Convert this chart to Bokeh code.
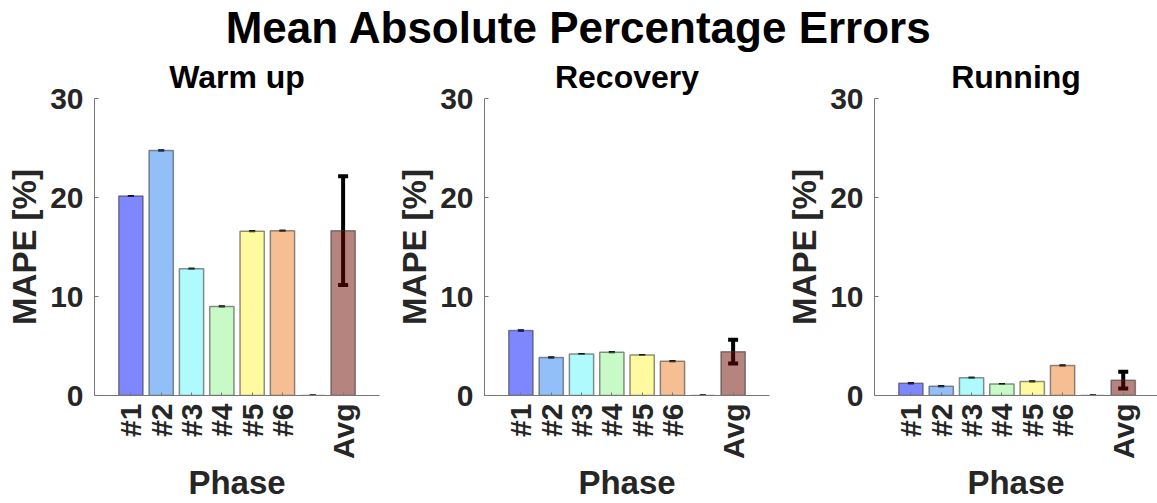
import math
from bokeh.plotting import figure
from bokeh.layouts import column, row
from bokeh.models import Range1d, FixedTicker, Label, ColumnDataSource
from bokeh.embed import file_html
from bokeh.resources import INLINE

# ---- data ----
main_title = "Mean Absolute Percentage Errors"
panel_titles = ["Warm up", "Recovery", "Running"]
positions = [1, 2, 3, 4, 5, 6, 7, 8]
tick_positions = [1, 2, 3, 4, 5, 6, 8]
tick_labels = ["#1", "#2", "#3", "#4", "#5", "#6", "Avg"]
warm_up = [20.15, 24.75, 12.8, 9.0, 16.6, 16.65, 0.0, 16.65]
warm_up_err = [0, 0, 0, 0, 0, 0, 0, 5.5]
recovery = [6.57, 3.84, 4.18, 4.38, 4.08, 3.47, 0.0, 4.42]
recovery_err = [0, 0, 0, 0, 0, 0, 0, 1.2]
running = [1.25, 0.94, 1.79, 1.15, 1.42, 3.03, 0.0, 1.55]
running_err = [0, 0, 0, 0, 0, 0, 0, 0.85]
base_colors = ["#0010ff", "#2580f0", "#60f5fa", "#90f590", "#fff540", "#ee8028", "#ffffff", "#6e0a00"]

FONT = "Liberation Sans"
TXT = "#262626"
TOP_H = 52

def panel(title, vals, errs, left_border, right_border, frame_w, x_end):
    p = figure(frame_width=frame_w, frame_height=297,
               min_border_left=left_border, min_border_right=right_border,
               min_border_top=98 - TOP_H, min_border_bottom=108,
               x_range=Range1d(-0.2, x_end), y_range=Range1d(0, 30),
               output_backend="svg", toolbar_location=None, title=title)
    p.title.align = "center"
    p.title.text_font = FONT
    p.title.text_font_size = "32px"
    p.title.text_font_style = "bold"
    p.title.text_color = "#000000"
    p.title.standoff = 8
    p.outline_line_color = None
    p.grid.visible = False
    p.background_fill_color = None
    p.border_fill_color = None

    lows = [v - e for v, e in zip(vals, errs)]
    highs = [v + e for v, e in zip(vals, errs)]
    src = ColumnDataSource(dict(x=positions, top=vals, lo=lows, hi=highs,
                                color=base_colors, err=errs))
    # error bars (drawn beneath semi-transparent bars)
    p.segment(x0="x", y0="lo", x1="x", y1="hi", source=src, line_color="black", line_width=4)
    big = [e > 0 for e in errs]
    src.data["capw"] = [10 if b else 6 for b in big]
    src.data["caph"] = [4 if b else 2 for b in big]
    p.rect(x="x", y="hi", width="capw", height="caph", width_units="screen",
           height_units="screen", source=src, fill_color="black", line_color=None)
    p.rect(x="x", y="lo", width="capw", height="caph", width_units="screen",
           height_units="screen", source=src, fill_color="black", line_color=None)
    p.vbar(x="x", top="top", width=0.8, bottom=0, source=src,
           fill_color="color", fill_alpha=0.5, line_color="#333333", line_alpha=0.55,
           line_width=1.5)

    # y axis
    ya = p.yaxis[0]
    ya.ticker = FixedTicker(ticks=[0, 10, 20, 30])
    ya.axis_label = "MAPE [%]"
    ya.axis_label_text_font = FONT
    ya.axis_label_text_font_size = "33px"
    ya.axis_label_text_font_style = "bold"
    ya.axis_label_text_color = TXT
    ya.axis_label_standoff = 4
    ya.major_label_text_font = FONT
    ya.major_label_text_font_size = "30px"
    ya.major_label_text_font_style = "bold"
    ya.major_label_text_color = TXT
    ya.major_label_standoff = 11
    ya.major_tick_in = 4
    ya.major_tick_out = 0
    ya.minor_tick_line_color = None
    ya.axis_line_color = "#777777"
    ya.major_tick_line_color = "#777777"

    # x axis
    xa = p.xaxis[0]
    xa.ticker = FixedTicker(ticks=tick_positions)
    xa.major_label_overrides = {t: l for t, l in zip(tick_positions, tick_labels)}
    xa.major_label_orientation = math.pi / 2
    xa.axis_label = "Phase"
    xa.axis_label_text_font = FONT
    xa.axis_label_text_font_size = "33px"
    xa.axis_label_text_font_style = "bold"
    xa.axis_label_text_color = TXT
    xa.axis_label_standoff = 2
    xa.major_label_text_font = FONT
    xa.major_label_text_font_size = "30px"
    xa.major_label_text_font_style = "bold"
    xa.major_label_text_color = TXT
    xa.major_label_standoff = 8
    xa.major_tick_in = 3
    xa.major_tick_out = 0
    xa.minor_tick_line_color = None
    xa.axis_line_color = "#777777"
    xa.major_tick_line_color = "#777777"
    return p

p1 = panel(panel_titles[0], warm_up, warm_up_err, 94, 11, 285, 9.2)
p2 = panel(panel_titles[1], recovery, recovery_err, 94, 11, 285, 9.2)
p3 = panel(panel_titles[2], running, running_err, 94, 0, 283, 9.13)

pt = figure(frame_width=1157, frame_height=TOP_H, min_border=0,
            x_range=Range1d(0, 1157), y_range=Range1d(0, TOP_H),
            x_axis_type=None, y_axis_type=None,
            output_backend="svg", toolbar_location=None)
pt.outline_line_color = None
pt.grid.visible = False
pt.add_layout(Label(x=578.5, y=TOP_H - 27, text=main_title, text_align="center",
                    text_baseline="middle", text_font=FONT,
                    text_font_size="44px", text_font_style="bold", text_color="#000000"))

layout = column(pt, row(p1, p2, p3))
open("out.html", "w").write(file_html(layout, INLINE))
